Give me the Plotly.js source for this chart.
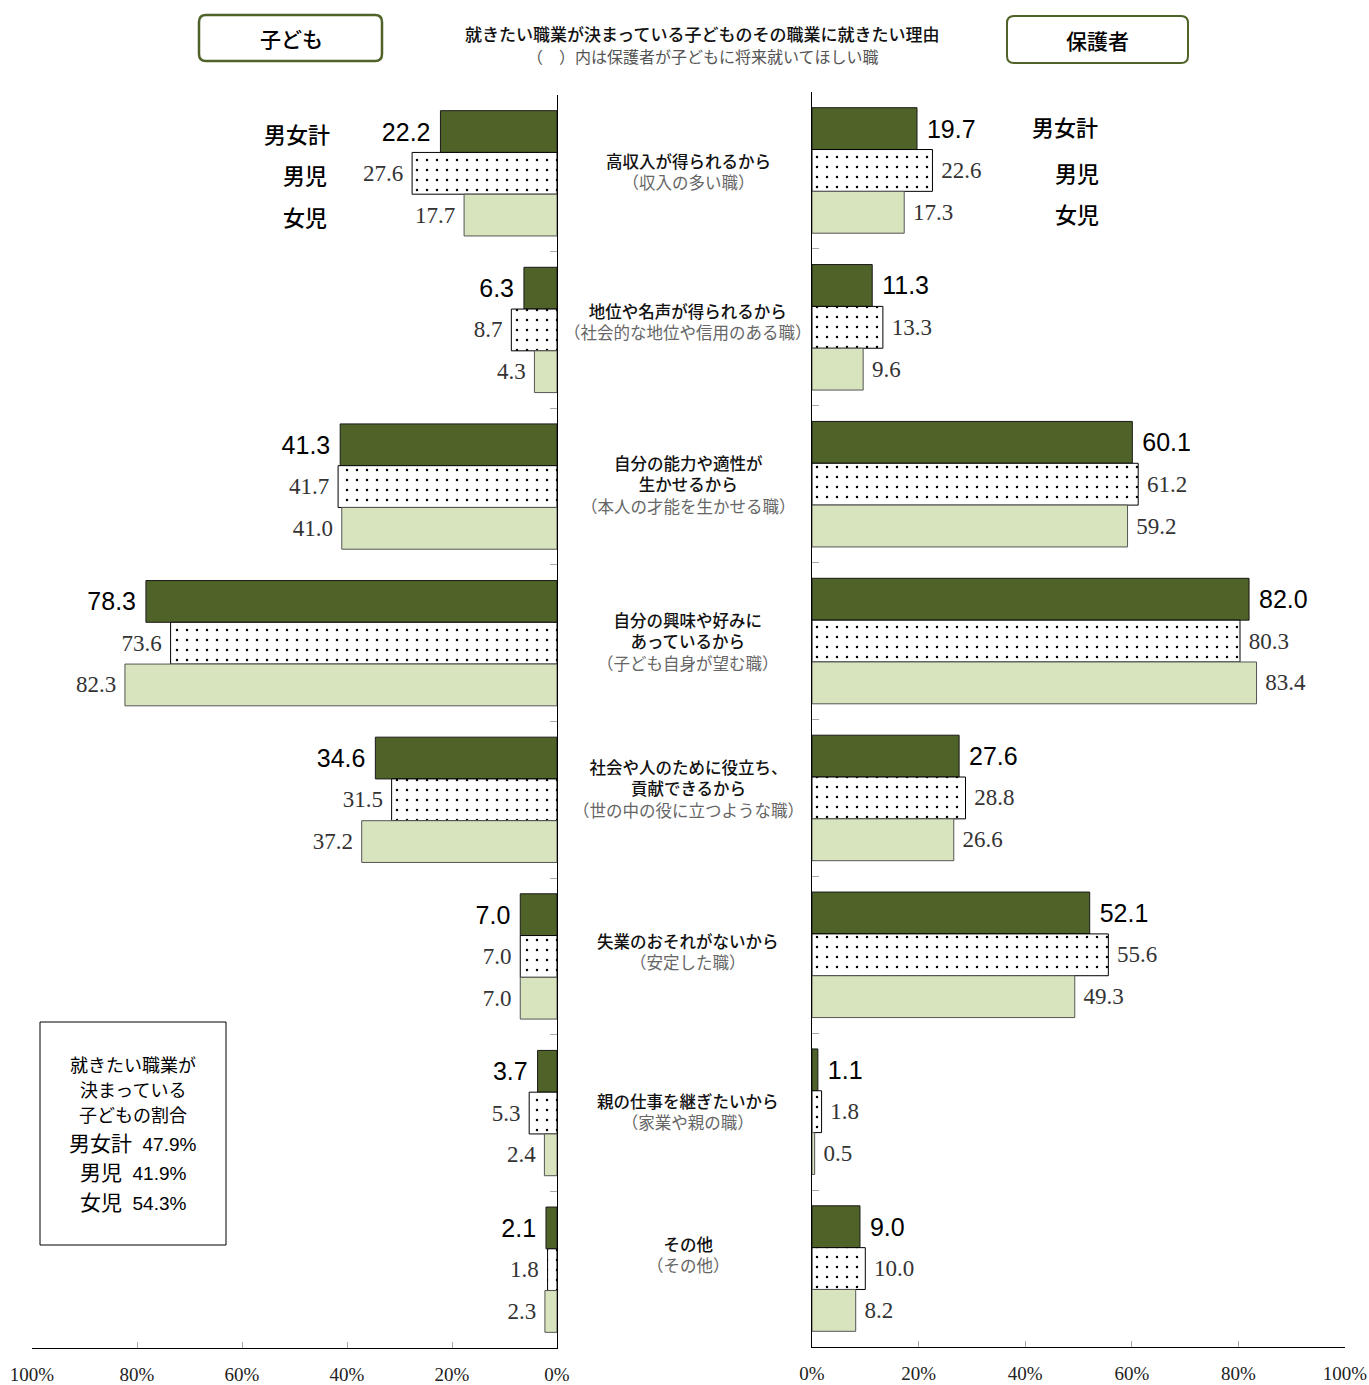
<!DOCTYPE html>
<html>
<head>
<meta charset="utf-8">
<script src="https://cdn.plot.ly/plotly-3.0.1.min.js"></script>
<style>html,body{margin:0;padding:0;background:#fff;}#chart{width:1369px;height:1385px;}</style>
</head>
<body>
<div id="chart"></div>
<script>
// ---- data ----
const reasons = ['高収入が得られるから', '地位や名声が得られるから', '自分の能力や適性が<br>生かせるから', '自分の興味や好みに<br>あっているから', '社会や人のために役立ち、<br>貢献できるから', '失業のおそれがないから', '親の仕事を継ぎたいから', 'その他'];
const guardianJobs = ['（収入の多い職）', '（社会的な地位や信用のある職）', '（本人の才能を生かせる職）', '（子ども自身が望む職）', '（世の中の役に立つような職）', '（安定した職）', '（家業や親の職）', '（その他）'];
const seriesNames = ['男女計', '男児', '女児'];
const childTotal = [22.2, 6.3, 41.3, 78.3, 34.6, 7.0, 3.7, 2.1];
const childBoys  = [27.6, 8.7, 41.7, 73.6, 31.5, 7.0, 5.3, 1.8];
const childGirls = [17.7, 4.3, 41.0, 82.3, 37.2, 7.0, 2.4, 2.3];
const guardTotal = [19.7, 11.3, 60.1, 82.0, 27.6, 52.1, 1.1, 9.0];
const guardBoys  = [22.6, 13.3, 61.2, 80.3, 28.8, 55.6, 1.8, 10.0];
const guardGirls = [17.3, 9.6, 59.2, 83.4, 26.6, 49.3, 0.5, 8.2];
const xTicks = [0, 20, 40, 60, 80, 100];
const xTickText = ['0%', '20%', '40%', '60%', '80%', '100%'];
const panelTitles = ['子ども', '保護者'];
const chartTitle = '就きたい職業が決まっている子どものその職業に就きたい理由';
const chartSubtitle = '（\u3000）内は保護者が子どもに将来就いてほしい職';
const insetLines = ['就きたい職業が', '決まっている', '子どもの割合'];
const insetShares = [['男女計', '47.9%'], ['男児', '41.9%'], ['女児', '54.3%']];

// ---- helpers ----
const W = 1369, H = 1385;
const px = x => x / W;
const py = y => 1 - y / H;
const cats = reasons.map((r, i) => 'c' + i);
const SANS = 'Liberation Sans, Noto Sans CJK JP, sans-serif';
const SERIF = 'Liberation Serif, Noto Sans CJK JP, serif';
const JP = 'Noto Sans CJK JP, sans-serif';
const med = s => s.split('<br>').map(l => '<span style="font-weight:500">' + l + '</span>').join('<br>');
const labelShift = [2, 8, 2, 2, 11, 5, 2, 15]; // layout: vertical nudge of center labels (px)

const styles = [
  {marker: {color: '#4F6228', line: {color: '#1a1a1a', width: 1}}, font: {family: SANS, size: 25, color: '#000'}, pad: '\u00a0'},
  {marker: {color: '#ffffff', pattern: {shape: '.', fgcolor: '#000', bgcolor: '#fff', size: 10, solidity: 0.05}, line: {color: '#000', width: 1}}, font: {family: SERIF, size: 23, color: '#333'}, pad: '\u00a0'},
  {marker: {color: '#D7E4BD', line: {color: '#555', width: 1}}, font: {family: SERIF, size: 23, color: '#333'}, pad: '\u00a0'}
];

function mk(vals, k, xa, ya, left) {
  const p = styles[k].pad;
  return {
    type: 'bar', orientation: 'h', x: vals, y: cats, name: seriesNames[k],
    xaxis: xa, yaxis: ya,
    marker: styles[k].marker,
    text: vals.map(v => left ? v.toFixed(1) + p : p + v.toFixed(1)), textposition: 'outside',
    textfont: styles[k].font, constraintext: 'none', cliponaxis: false,
    hoverinfo: 'skip', showlegend: false
  };
}

const data = [
  mk(childTotal, 0, 'x', 'y', true), mk(childBoys, 1, 'x', 'y', true), mk(childGirls, 2, 'x', 'y', true),
  mk(guardTotal, 0, 'x2', 'y2', false), mk(guardBoys, 1, 'x2', 'y2', false), mk(guardGirls, 2, 'x2', 'y2', false)
];

const xCommon = {
  tickmode: 'array', tickvals: xTicks, ticktext: xTickText, showgrid: false, zeroline: false,
  showline: true, linecolor: '#000', linewidth: 1.3,
  ticks: 'inside', ticklen: 6, tickcolor: '#aaa', tickwidth: 1,
  tickfont: {family: SERIF, size: 19, color: '#222'}, ticklabelstandoff: 9, fixedrange: true
};
const yCommon = {
  type: 'category', autorange: 'reversed', showticklabels: false, showgrid: false, zeroline: false,
  showline: true, linecolor: '#000', linewidth: 1.3,
  ticks: 'inside', tickson: 'boundaries', ticklen: 7, tickcolor: '#aaa', tickwidth: 1, fixedrange: true
};

const annotations = [];
// center labels
reasons.forEach((r, i) => {
  annotations.push({
    xref: 'paper', yref: 'y', x: px(688), y: i, yshift: labelShift[i], xanchor: 'center', yanchor: 'middle', showarrow: false,
    align: 'center',
    text: med(r) + '<br><span style="color:#666">' + guardianJobs[i] + '</span>',
    font: {family: JP, size: 16.5, color: '#111'}
  });
});
// title
annotations.push({xref: 'paper', yref: 'paper', x: px(702), y: py(33), xanchor: 'center', yanchor: 'middle', showarrow: false,
  text: med(chartTitle), font: {family: JP, size: 17, color: '#111'}});
annotations.push({xref: 'paper', yref: 'paper', x: px(703), y: py(56), xanchor: 'center', yanchor: 'middle', showarrow: false,
  text: chartSubtitle, font: {family: JP, size: 16, color: '#555'}});
// panel titles
annotations.push({xref: 'paper', yref: 'paper', x: px(291), y: py(38), xanchor: 'center', yanchor: 'middle', showarrow: false,
  text: med(panelTitles[0]), font: {family: JP, size: 21, color: '#000'}});
annotations.push({xref: 'paper', yref: 'paper', x: px(1097), y: py(40), xanchor: 'center', yanchor: 'middle', showarrow: false,
  text: med(panelTitles[1]), font: {family: JP, size: 21, color: '#000'}});
// series labels
const leftLab = [[297, 133], [305, 174], [305, 216]];
const rightLab = [[1065, 126], [1077, 172], [1077, 213]];
seriesNames.forEach((n, k) => {
  annotations.push({xref: 'paper', yref: 'paper', x: px(leftLab[k][0]), y: py(leftLab[k][1]), xanchor: 'center', yanchor: 'middle', showarrow: false,
    text: med(n), font: {family: JP, size: 22, color: '#000'}});
  annotations.push({xref: 'paper', yref: 'paper', x: px(rightLab[k][0]), y: py(rightLab[k][1]), xanchor: 'center', yanchor: 'middle', showarrow: false,
    text: med(n), font: {family: JP, size: 22, color: '#000'}});
});
// inset box text
const insetY = [1064, 1089, 1114];
insetLines.forEach((t, i) => {
  annotations.push({xref: 'paper', yref: 'paper', x: px(133), y: py(insetY[i]), xanchor: 'center', yanchor: 'middle', showarrow: false,
    text: t, font: {family: JP, size: 18, color: '#000'}});
});
const shareY = [1143, 1172, 1202];
insetShares.forEach((s, i) => {
  annotations.push({xref: 'paper', yref: 'paper', x: px(133), y: py(shareY[i]), xanchor: 'center', yanchor: 'middle', showarrow: false,
    text: '<span style="font-size:21px">' + s[0] + '</span>  ' + s[1], font: {family: SANS, size: 19, color: '#000'}});
});

function roundRect(x0, y0, x1, y1, r) {
  const rx = r / W, ry = r / H;
  const X0 = px(x0), X1 = px(x1), Y0 = py(y0), Y1 = py(y1);
  return `M${X0 + rx},${Y0} L${X1 - rx},${Y0} Q${X1},${Y0} ${X1},${Y0 - ry} L${X1},${Y1 + ry} Q${X1},${Y1} ${X1 - rx},${Y1} L${X0 + rx},${Y1} Q${X0},${Y1} ${X0},${Y1 + ry} L${X0},${Y0 - ry} Q${X0},${Y0} ${X0 + rx},${Y0} Z`;
}

const shapes = [
  {type: 'path', xref: 'paper', yref: 'paper', path: roundRect(199, 15, 382, 61, 7), line: {color: '#4F6228', width: 2.5}, fillcolor: 'rgba(0,0,0,0)'},
  {type: 'path', xref: 'paper', yref: 'paper', path: roundRect(1007, 16, 1188, 63, 7), line: {color: '#4F6228', width: 2}, fillcolor: 'rgba(0,0,0,0)'},
  {type: 'rect', xref: 'paper', yref: 'paper', x0: px(40), x1: px(226), y0: py(1022), y1: py(1245), line: {color: '#000', width: 1}, fillcolor: 'rgba(0,0,0,0)'}
];

const layout = {
  width: W, height: H, margin: {l: 0, r: 0, t: 0, b: 0},
  paper_bgcolor: '#fff', plot_bgcolor: 'rgba(0,0,0,0)',
  barmode: 'group', bargap: 0.2, bargroupgap: 0, showlegend: false,
  xaxis: Object.assign({}, xCommon, {domain: [px(32), px(557)], autorange: false, range: [100, 0], anchor: 'y'}),
  xaxis2: Object.assign({}, xCommon, {domain: [px(812), px(1345)], autorange: false, range: [0, 100], anchor: 'y2'}),
  yaxis: Object.assign({}, yCommon, {domain: [py(1348), py(95)], anchor: 'x', side: 'right'}),
  yaxis2: Object.assign({}, yCommon, {domain: [py(1347), py(92)], anchor: 'x2', side: 'left'}),
  annotations: annotations, shapes: shapes,
  font: {family: JP}
};

Plotly.newPlot('chart', data, layout, {staticPlot: true, displayModeBar: false});
</script>
</body>
</html>
